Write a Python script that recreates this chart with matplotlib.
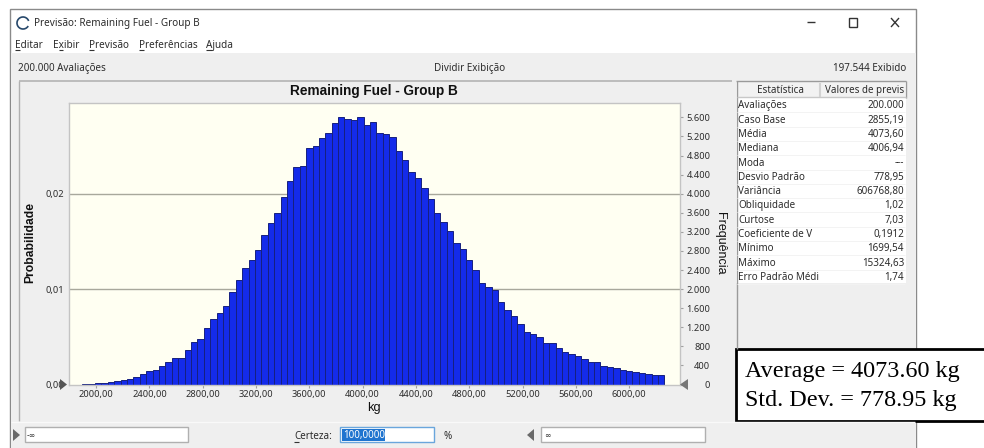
import numpy as np
import matplotlib
matplotlib.use("Agg")
import matplotlib.pyplot as plt
from matplotlib.patches import Rectangle, Polygon, Arc

freq = [14, 14, 28, 28, 56, 70, 84, 105, 147, 210, 273, 301, 392, 469, 553, 553,
        721, 882, 945, 1183, 1379, 1491, 1652, 1939, 2191, 2436, 2611, 2821, 3143,
        3381, 3591, 3927, 4270, 4557, 4585, 4963, 4991, 5173, 5271, 5474, 5607,
        5565, 5551, 5607, 5446, 5502, 5278, 5250, 5187, 4900, 4704, 4452, 4326,
        4116, 3885, 3605, 3402, 3220, 2975, 2842, 2604, 2401, 2135, 2044, 1981,
        1729, 1561, 1442, 1274, 1099, 1050, 987, 868, 868, 763, 672, 630, 602,
        525, 469, 469, 392, 357, 343, 301, 273, 259, 238, 224, 196, 196]
bin_start = 1896
bin_width = 48

x_ticks = [2000, 2400, 2800, 3200, 3600, 4000, 4400, 4800, 5200, 5600, 6000]
x_labels = ["2000,00", "2400,00", "2800,00", "3200,00", "3600,00", "4000,00",
            "4400,00", "4800,00", "5200,00", "5600,00", "6000,00"]
freq_ticks = [0, 400, 800, 1200, 1600, 2000, 2400, 2800, 3200, 3600, 4000, 4400,
              4800, 5200, 5600]
freq_labels = ["0", "400", "800", "1.200", "1.600", "2.000", "2.400", "2.800",
               "3.200", "3.600", "4.000", "4.400", "4.800", "5.200", "5.600"]
grid_levels = [2000, 4000]
prob_ticks = [0.0, 0.01, 0.02]
prob_labels = ["0,00", "0,01", "0,02"]

stat_names = ["Avaliações", "Caso Base", "Média", "Mediana", "Moda", "Desvio Padrão",
              "Variância", "Obliquidade", "Curtose", "Coeficiente de V", "Mínimo",
              "Máximo", "Erro Padrão Médi"]
stat_values = ["200.000", "2855,19", "4073,60", "4006,94", "---", "778,95",
               "606768,80", "1,02", "7,03", "0,1912", "1699,54", "15324,63", "1,74"]

W, H = 984, 448
UI = "Noto Sans"
ARIAL = "Liberation Sans"
TXT = "#2c2c2c"
PANEL = "#efefef"

fig = plt.figure(figsize=(W / 100, H / 100), dpi=100)

# Capa de fondo en pixeles para la ventana
bg = fig.add_axes([0, 0, 1, 1], zorder=0)
bg.set_xlim(0, W)
bg.set_ylim(H, 0)
bg.axis("off")


def rect(x0, y0, x1, y1, fc="none", ec="none", lw=1.0):
    bg.add_patch(Rectangle((x0, y0), x1 - x0, y1 - y0, fc=fc, ec=ec, lw=lw))


def line(x0, y0, x1, y1, c="#b4b4b4", lw=1.0):
    bg.plot([x0, x1], [y0, y1], color=c, lw=lw, solid_capstyle="butt")


def tri(x0, x1, y, h=5, c="#6a6a6a"):
    bg.add_patch(Polygon([(x0, y - h), (x1, y), (x0, y + h)], fc=c, ec="none"))


def label(x, y, s, size=7.1, ha="left", **kw):
    # y es el centro de las minusculas, se pasa a linea base
    kw.setdefault("family", UI)
    kw.setdefault("color", TXT)
    bg.text(x, y + 3, s, fontsize=size, ha=ha, va="baseline", **kw)


# ventana
rect(10, 9, 916, 449, fc="white", ec="#8a8a8a", lw=1.0)
rect(10.5, 53, 915.5, 449, fc=PANEL)
bg.add_patch(Arc((23, 23), 12, 12, theta1=30, theta2=340, color="#27486b", lw=1.2))
label(34, 23, "Previsão: Remaining Fuel - Group B", size=7.2)
line(807, 22.5, 815, 22.5, c="#333333")
rect(848.5, 18.5, 857, 27, ec="#333333")
line(891, 18, 899, 27, c="#333333")
line(899, 18, 891, 27, c="#333333")

for x, s in [(15, "Editar"), (53, "Exibir"), (89, "Previsão"),
             (139, "Preferências"), (206, "Ajuda")]:
    label(x, 45, s, size=7.2)
for x0, x1 in [(15, 20), (59, 63), (89, 94), (139, 144), (206, 212)]:
    line(x0, 50.5, x1, 50.5, c="#333333", lw=0.8)

label(18, 68, "200.000 Avaliações")
label(470, 68, "Dividir Exibição", ha="center")
label(906, 68, "197.544 Exibido", ha="right")

# marco del panel del grafico
line(18.5, 81, 732, 81, c="#b8b8b8", lw=1.3)
line(18.5, 81, 18.5, 421, c="#b0b0b0", lw=1.0)
line(11, 422.5, 915, 422.5, c="#f9f9f9", lw=1.0)
bg.text(374, 90.5, "Remaining Fuel - Group B", fontsize=9.8, fontweight="bold",
        family=ARIAL, color="#111111", ha="center", va="center")

# tabla de estadisticas
rect(736, 81, 906, 283, fc="white")
rect(737, 82, 905, 97, fc="#f2f2f2")
line(736.5, 81, 736.5, 349, c="#9a9a9a")
line(736, 81.5, 906, 81.5, c="#9a9a9a")
line(905.5, 81, 905.5, 98, c="#9a9a9a")
line(737, 97.5, 906, 97.5, c="#c8c8c8")
line(820, 83, 820, 97, c="#d2d2d2", lw=1.5)
label(780, 90, "Estatística", ha="center")
label(865, 89.5, "Valores de previs", ha="center")
for i, (n, v) in enumerate(zip(stat_names, stat_values)):
    y = 105.3 + i * 14.3
    label(738, y, n)
    label(904, y, v, ha="right")
    line(737, y + 7.1, 905, y + 7.1, c="#f3f3f3", lw=0.7)

# recuadro de anotacion
rect(736, 349, 984.5, 421, fc="white", ec="black", lw=2.0)
bg.text(745, 372, "Average = 4073.60 kg", fontsize=17.4, family="Liberation Serif",
        color="black", ha="left", va="center")
bg.text(745, 400.5, "Std. Dev. = 778.95 kg", fontsize=17.4, family="Liberation Serif",
        color="black", ha="left", va="center")

# controles inferiores
tri(13, 20, 435, h=6)
rect(25, 427.5, 187.5, 442.5, fc="white", ec="#b0b0b0")
label(27, 435, "-∞", size=5.5, family="DejaVu Sans")
label(294, 436, "Certeza:")
line(294, 442, 299, 442, c="#333333", lw=0.8)
rect(340, 427.5, 433.5, 442.5, fc="white", ec="#6aa6dc")
rect(342, 429, 385, 441, fc="#1f74cf")
label(343, 435, "100,0000", color="white")
label(443, 436, "%")
tri(534, 527, 435, h=6)
rect(541, 427.5, 704.5, 442.5, fc="white", ec="#b0b0b0")
label(544, 435, "∞", size=5.5, family="DejaVu Sans")

# Histograma: eje de frecuencia a la derecha, probabilidad a la izquierda
x0, x1, y0, y1 = 68.5, 679.5, 103.5, 384.5
ax = fig.add_axes([x0 / W, 1 - y1 / H, (x1 - x0) / W, (y1 - y0) / H], zorder=1)
ax.set_facecolor("#fffff2")
edges = bin_start + bin_width * np.arange(len(freq))
for level in grid_levels:
    ax.axhline(level, color="#a8a89c", lw=1.0, zorder=1)
ax.bar(edges, freq, width=bin_width, align="edge", color="#142bea",
       edgecolor="#16207f", linewidth=0.7, zorder=2)
ax.set_xlim(1793, 6378)
ax.set_ylim(0, 5891)
ax.set_xticks(x_ticks, x_labels, fontsize=6.7, family=UI, color=TXT)
ax.tick_params(axis="x", length=2.2, width=0.8, color="#a0a0a0", pad=2)
for s in ax.spines.values():
    s.set_color("#c4c4c4")
    s.set_linewidth(1.0)
ax.set_xlabel("kg", fontsize=9.2, family=ARIAL, color="#111111", labelpad=2)

ax2 = ax.twinx()
ax2.yaxis.tick_left()
ax2.yaxis.set_label_position("left")
ax2.set_ylim(0, 0.029455)
ax2.set_yticks(prob_ticks, prob_labels, fontsize=6.7, family=UI, color=TXT)
ax2.tick_params(axis="y", length=0, pad=3)
ax2.set_ylabel("Probabilidade", fontsize=8.7, fontweight="bold", family=ARIAL,
               color="#111111")
ax2.yaxis.set_label_coords(-0.053, 0.507)
for s in ax2.spines.values():
    s.set_visible(False)

# twinx deja las marcas a la izquierda, se devuelven a la derecha aqui
ax.yaxis.tick_right()
ax.set_yticks(freq_ticks, freq_labels, fontsize=6.7, family=UI, color=TXT, ha="right")
ax.tick_params(axis="y", length=2.2, width=0.8, color="#a0a0a0", pad=20)
ax.yaxis.set_label_position("right")
ax.set_ylabel("Frequência", fontsize=9, family=ARIAL, color="#111111", rotation=270)
ax.yaxis.set_label_coords(1.076, 0.503)

# marcadores de limite
top = fig.add_axes([0, 0, 1, 1], zorder=2)
top.set_xlim(0, W)
top.set_ylim(H, 0)
top.axis("off")
top.add_patch(Polygon([(60, 379), (67, 384.5), (60, 390)], fc="#555555", ec="none"))
top.add_patch(Polygon([(688, 379), (680, 384.5), (688, 390)], fc="#777777", ec="none"))

fig.savefig("out.png", dpi=100)
